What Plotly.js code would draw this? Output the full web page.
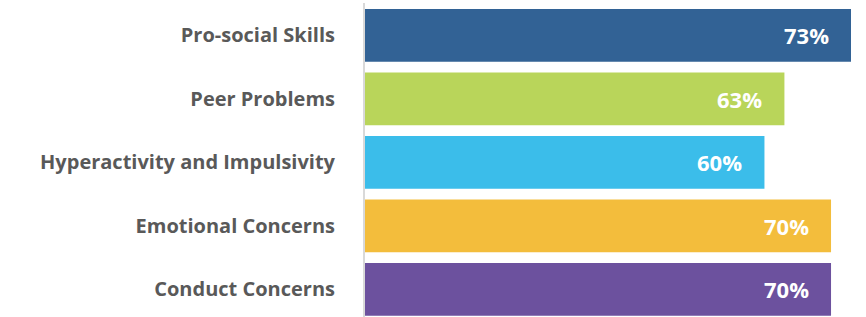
<!DOCTYPE html>
<html>
<head>
<meta charset="utf-8">
<script src="https://cdn.plot.ly/plotly-3.0.1.min.js"></script>
<style>html,body{margin:0;padding:0;background:#fff;}#chart{width:866px;height:317px;}</style>
</head>
<body>
<div id="chart"></div>
<script>
const categories = ["Pro-social Skills", "Peer Problems", "Hyperactivity and Impulsivity", "Emotional Concerns", "Conduct Concerns"];
const values = [73, 63, 60, 70, 70];
const valueLabels = ["73%", "63%", "60%", "70%", "70%"];
const colors = ["#326295", "#b9d55a", "#3bbdea", "#f3bd3c", "#6c519e"];

const trace = {
  type: "bar",
  orientation: "h",
  x: values,
  y: categories,
  marker: {color: colors, line: {width: 0}},
  hoverinfo: "none",
  text: valueLabels,
  textposition: "none"
};

const annotations = values.map((v, i) => ({
  x: v, y: categories[i], xref: "x", yref: "y",
  text: valueLabels[i], showarrow: false,
  xanchor: "right", yanchor: "middle", xshift: -20,
  font: {family: "Open Sans", size: 22, color: "#ffffff", weight: "bold"}
}));

const layout = {
  width: 866, height: 317,
  margin: {l: 365, r: 15, t: 3, b: 0},
  paper_bgcolor: "#ffffff", plot_bgcolor: "#ffffff",
  showlegend: false,
  bargap: 0.17,
  xaxis: {range: [0, 73], showgrid: false, zeroline: false, showticklabels: false, showline: false, ticks: ""},
  yaxis: {
    type: "category", range: [4.433, -0.508], showgrid: false, zeroline: false,
    showline: true, linecolor: "#d9d9d9", linewidth: 2,
    ticks: "", ticklabelstandoff: 24,
    tickfont: {family: "Open Sans", size: 20, color: "#595959", weight: "bold"}
  },
  annotations: annotations
};

Plotly.newPlot("chart", [trace], layout, {staticPlot: true, displayModeBar: false});
</script>
</body>
</html>
